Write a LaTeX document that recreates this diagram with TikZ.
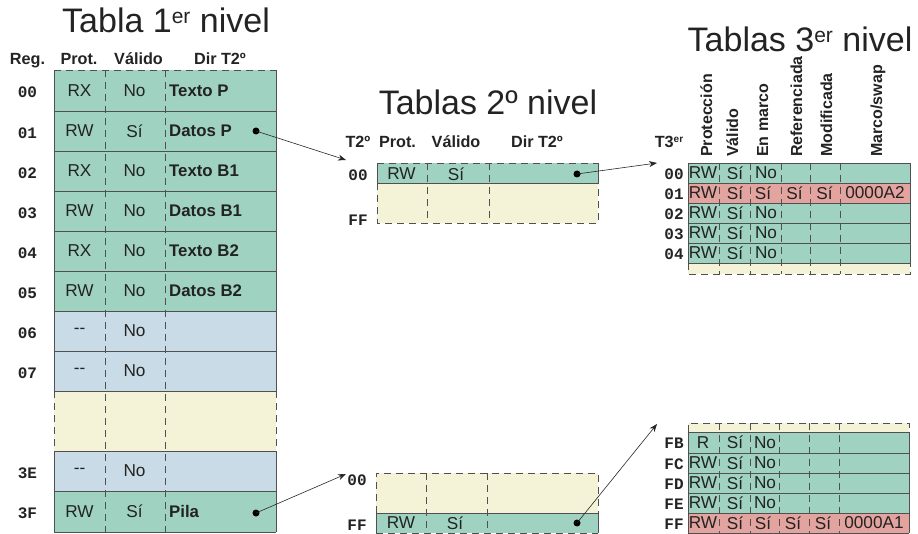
\documentclass[tikz,border=0pt]{standalone}
\usepackage{fontspec}
\setmainfont{Liberation Sans}
\newfontfamily\regfont{Liberation Mono}
\usetikzlibrary{arrows.meta}

\definecolor{cgreen}{RGB}{159,210,193}
\definecolor{cblue}{RGB}{201,219,230}
\definecolor{cyellow}{RGB}{244,243,215}
\definecolor{cred}{RGB}{227,163,158}
\definecolor{cline}{RGB}{80,80,80}
\definecolor{ctext}{RGB}{35,35,35}

\newcommand\twohyph{-{}-}

\tikzset{
  solidedge/.style={draw=cline, line width=0.9pt},
  dashedge/.style={draw=cline, line width=0.9pt, dash pattern=on 7pt off 5pt},
  cell/.style={font=\fontsize{17.2}{17.2}\selectfont, text=ctext, inner sep=0pt},
  bcell/.style={font=\bfseries\fontsize{16.8}{16.8}\selectfont, text=ctext, inner sep=0pt, anchor=west},
  head/.style={font=\bfseries\fontsize{16.2}{16.2}\selectfont, text=ctext, inner sep=0pt, anchor=base},
  vhead/.style={font=\bfseries\fontsize{16}{16}\selectfont, text=ctext, inner sep=0pt, anchor=base west, rotate=90},
  reglabel/.style={font=\regfont\bfseries\fontsize{16}{16}\selectfont, text=ctext, inner sep=0pt},
  title/.style={font=\fontsize{34}{34}\selectfont, text=ctext, inner sep=0pt, anchor=base},
  sup/.style={},
  pointer/.style={circle, fill=black, inner sep=0pt, minimum size=7pt},
  link/.style={draw=black!85, line width=0.6pt, -{Stealth[length=8pt,width=6pt]}},
}
\newcommand\titlesup{\raisebox{9pt}{\fontsize{21}{21}\selectfont er}}

\begin{document}
\begin{tikzpicture}[x=1pt,y=-1pt]
\useasboundingbox (0,0) rectangle (918,534);

% ---------------- titles ----------------
\node[title] (title1) at (166,33) {Tabla 1\titlesup{} nivel};
\node[title] (title2) at (488,115) {Tablas 2º nivel};
\node[title] (title3) at (800,52) {Tablas 3\titlesup{} nivel};

% ---------------- first level table ----------------
\fill[cgreen]  (54,70)  rectangle (276,311);
\fill[cblue]   (54,311) rectangle (276,391);
\fill[cyellow] (54,391) rectangle (276,451);
\fill[cblue]   (54,451) rectangle (276,491);
\fill[cgreen]  (54,491) rectangle (276,532);
\foreach \y in {111,151,191,231,271,311,351,391,451,491,532}
  \draw[solidedge] (54,\y) -- (276,\y);
\draw[solidedge] (54,70) -- (54,391) (276,70) -- (276,391)
                 (54,451) -- (54,532) (276,451) -- (276,532);
\draw[dashedge] (54,391) -- (54,451) (276,391) -- (276,451);
\draw[dashedge] (54,70) -- (276,70);
\draw[dashedge] (105,70) -- (105,532) (165,70) -- (165,532);

\node[head] (h1reg) at (27.5,65) {Reg.};
\node[head] (h1pro) at (79,65) {Prot.};
\node[head] (h1val) at (138.5,65) {Válido};
\node[head] (h1dir) at (220,65) {Dir T2º};

\foreach \n/\yc/\pr/\va/\dir in {00/90.5/RX/No/Texto P, 01/131/RW/Sí/Datos P,
    02/171/RX/No/Texto B1, 03/211/RW/No/Datos B1, 04/251/RX/No/Texto B2,
    05/291/RW/No/Datos B2, 06/331/\twohyph/No/, 07/371/\twohyph/No/,
    3E/471/\twohyph/No/, 3F/511.5/RW/Sí/Pila}{
  \node[reglabel] (t1reg\n) at (27.5,\yc+2) {\n};
  \node[cell] (t1pro\n) at (79.5,\yc) {\pr};
  \node[cell] (t1val\n) at (134.5,\yc) {\va};
  \node[bcell] (t1dir\n) at (169,\yc) {\dir};
}
\node[pointer] (p1a) at (256,131) {};
\node[pointer] (p1b) at (256,513) {};

% ---------------- second level tables ----------------
\node[head] (h2t)   at (358,148) {T2º};
\node[head] (h2pro) at (397.5,148) {Prot.};
\node[head] (h2val) at (456,148) {Válido};
\node[head] (h2dir) at (537,148) {Dir T2º};

% upper table
\fill[cgreen]  (377,163) rectangle (598,183);
\fill[cyellow] (377,183) rectangle (598,223);
\draw[solidedge] (377,163) -- (377,183) (598,163) -- (598,183) (377,183) -- (598,183);
\draw[dashedge] (377,163) -- (598,163);
\draw[dashedge] (377,183) -- (377,223) -- (598,223) -- (598,183);
\draw[dashedge] (427,163) -- (427,223) (489,163) -- (489,223);
\node[reglabel] (t2a00) at (358,175) {00};
\node[reglabel] (t2aFF) at (358,220) {FF};
\node[cell] (t2apro) at (401.5,174) {RW};
\node[cell] (t2aval) at (456,174) {Sí};
\node[pointer] (p2a) at (577,174) {};

% lower table
\fill[cyellow] (376,473) rectangle (598,513);
\fill[cgreen]  (376,513) rectangle (598,533);
\draw[dashedge] (376,513) -- (376,473) -- (598,473) -- (598,513);
\draw[solidedge] (376,513) -- (598,513) (376,513) -- (376,533) (598,513) -- (598,533);
\draw[dashedge] (376,533) -- (598,533);
\draw[dashedge] (426,473) -- (426,533) (487,473) -- (487,533);
\node[reglabel] (t2b00) at (357,480) {00};
\node[reglabel] (t2bFF) at (357,525) {FF};
\node[cell] (t2bpro) at (401,523) {RW};
\node[cell] (t2bval) at (455,523) {Sí};
\node[pointer] (p2b) at (577,523) {};

% ---------------- third level tables ----------------
\node[head] (h3t) at (669,148) {T3\raisebox{5pt}{\fontsize{10}{10}\selectfont er}};
\node[vhead] (h3pro) at (712,157) {Protección};
\node[vhead] (h3val) at (738,157) {Válido};
\node[vhead] (h3mar) at (768,157) {En marco};
\node[vhead] (h3ref) at (802,157) {Referenciada};
\node[vhead] (h3mod) at (832,157) {Modificada};
\node[vhead] (h3swp) at (882,157) {Marco/swap};

% upper table
\fill[cgreen]  (688,163) rectangle (910,263);
\fill[cred]    (688,183) rectangle (910,203);
\fill[cyellow] (688,263) rectangle (910,274);
\foreach \y in {163,183,203,223,243,263}
  \draw[solidedge] (688,\y) -- (910,\y);
\draw[solidedge] (688,163) -- (688,263) (910,163) -- (910,263);
\draw[dashedge] (688,263) -- (688,274) -- (910,274) -- (910,263);
\foreach \x in {719,750,781,810,840}
  \draw[dashedge] (\x,163) -- (\x,274);

\foreach \n/\yc in {00/173, 02/213, 03/233, 04/253}{
  \node[reglabel] (t3a\n) at (674,\yc+1) {\n};
  \node[cell] (t3apro\n) at (703,\yc) {RW};
  \node[cell] (t3aval\n) at (735,\yc) {Sí};
  \node[cell] (t3amar\n) at (766,\yc) {No};
}
\node[reglabel] (t3a01) at (674,194) {01};
\node[cell] (t3apro01) at (703,193) {RW};
\node[cell] (t3aval01) at (735,193) {Sí};
\node[cell] (t3amar01) at (763,193) {Sí};
\node[cell] (t3aref01) at (794.5,193) {Sí};
\node[cell] (t3amod01) at (824.5,193) {Sí};
\node[cell] (t3aswp01) at (875,193) {0000A2};

% lower table
\fill[cyellow] (688,423) rectangle (909,432);
\fill[cgreen]  (688,432) rectangle (909,513);
\fill[cred]    (688,513) rectangle (909,533);
\draw[dashedge] (688,432) -- (688,423) -- (909,423) -- (909,432);
\foreach \y in {432,453,473,493,513,533}
  \draw[solidedge] (688,\y) -- (909,\y);
\draw[solidedge] (688,432) -- (688,533) (909,432) -- (909,533);
\foreach \x in {719,750,779,809,839}
  \draw[dashedge] (\x,423) -- (\x,533);

\foreach \n/\yc/\pr in {FB/442.5/R, FC/463/RW, FD/483/RW, FE/503/RW}{
  \node[reglabel] (t3b\n) at (674,\yc+1) {\n};
  \node[cell] (t3bpro\n) at (703,\yc) {\pr};
  \node[cell] (t3bval\n) at (735,\yc) {Sí};
  \node[cell] (t3bmar\n) at (765,\yc) {No};
}
\node[reglabel] (t3bFF) at (674,524) {FF};
\node[cell] (t3bproFF) at (703,523) {RW};
\node[cell] (t3bvalFF) at (735,523) {Sí};
\node[cell] (t3bmarFF) at (763,523) {Sí};
\node[cell] (t3brefFF) at (793,523) {Sí};
\node[cell] (t3bmodFF) at (823,523) {Sí};
\node[cell] (t3bswpFF) at (874,523) {0000A1};

% ---------------- pointers between levels ----------------
\coordinate (in2a) at (346,160);
\coordinate (in2b) at (346,474);
\coordinate (in3a) at (657,163);
\coordinate (in3b) at (657,424);
\draw[link] (p1a.center) -- (in2a);
\draw[link] (p1b.center) -- (in2b);
\draw[link] (p2a.center) -- (in3a);
\draw[link] (p2b.center) -- (in3b);
\end{tikzpicture}
\end{document}
